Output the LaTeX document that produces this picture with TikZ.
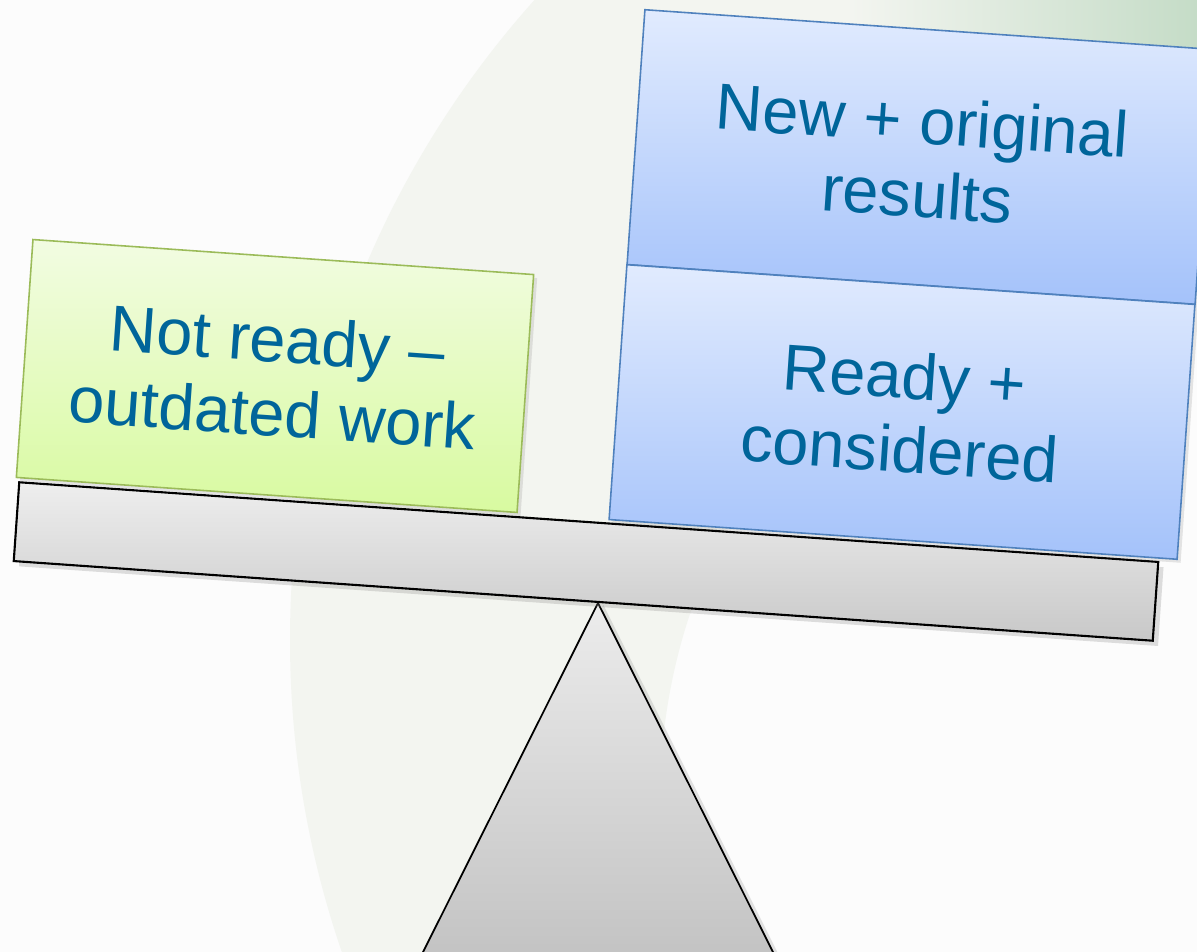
\documentclass[tikz,border=0pt]{standalone}
\usepackage{fontspec}
\setmainfont{Liberation Sans}
\usetikzlibrary{positioning,shadows,calc}
\definecolor{inkblue}{RGB}{0,101,154}
\definecolor{paper}{RGB}{252,252,252}
\definecolor{band}{RGB}{243,245,240}
\definecolor{leaf}{RGB}{197,220,199}
\definecolor{greenline}{RGB}{155,187,89}
\definecolor{blueline}{RGB}{79,129,189}
\tikzstyle{every picture}+=[remember picture]
\tikzstyle{card} = [rotate=-4,align=center,text=inkblue,line width=0.9pt,
                    font=\fontsize{37}{42}\selectfont,
                    drop shadow={opacity=0.2,shadow xshift=2pt,shadow yshift=-2pt}]
\tikzstyle{greencard} = [card,draw=greenline,top color={rgb,255:red,242;green,252;blue,226},
                         bottom color={rgb,255:red,216;green,250;blue,160}]
\tikzstyle{bluecard} = [card,draw=blueline,top color={rgb,255:red,225;green,235;blue,254},
                        bottom color={rgb,255:red,164;green,194;blue,250}]
\tikzstyle{plank} = [rotate=-4,draw=black,line width=1.2pt,
                     top color={rgb,255:red,238;green,238;blue,238},
                     bottom color={rgb,255:red,200;green,200;blue,200},
                     drop shadow={opacity=0.25,shadow xshift=3pt,shadow yshift=-3pt}]

\begin{document}
\begin{tikzpicture}[
    x=0.02cm,
    y=-0.02cm
]

   \useasboundingbox (0,0) rectangle (1197,952);
   \clip (0,0) rectangle (1197,952);

   % backdrop
   \fill[paper] (0,0) rectangle (1197,952);
   \fill[band,even odd rule] (1250,640) circle (960) (1250,800) circle (590);
   \fill[left color=band,right color=leaf] (850,0) rectangle (1197,200);

   % fulcrum and beam
   \coordinate (pivot) at (598,603);
   \draw[line width=1pt,top color={rgb,255:red,236;green,236;blue,236},
         bottom color={rgb,255:red,190;green,190;blue,190},
         drop shadow={opacity=0.22,shadow xshift=3pt,shadow yshift=-1pt}]
     (pivot) -- (399,1000) -- (797,1000) -- cycle;
   \node[plank,minimum width=22.84cm,minimum height=1.58cm] (beam) at (586,561.5) {};

   % weights
   \node[greencard,minimum width=10.04cm,minimum height=4.77cm] (outdated) at (275,376)
     {Not ready –\\outdated work};
   \node[bluecard,minimum width=11.39cm,minimum height=5.11cm] (results) at (920,157)
     {New + original\\results};
   \node[bluecard,minimum width=11.39cm,minimum height=5.11cm] (considered) at (902,412)
     {Ready +\\considered};

\end{tikzpicture}
\end{document}
